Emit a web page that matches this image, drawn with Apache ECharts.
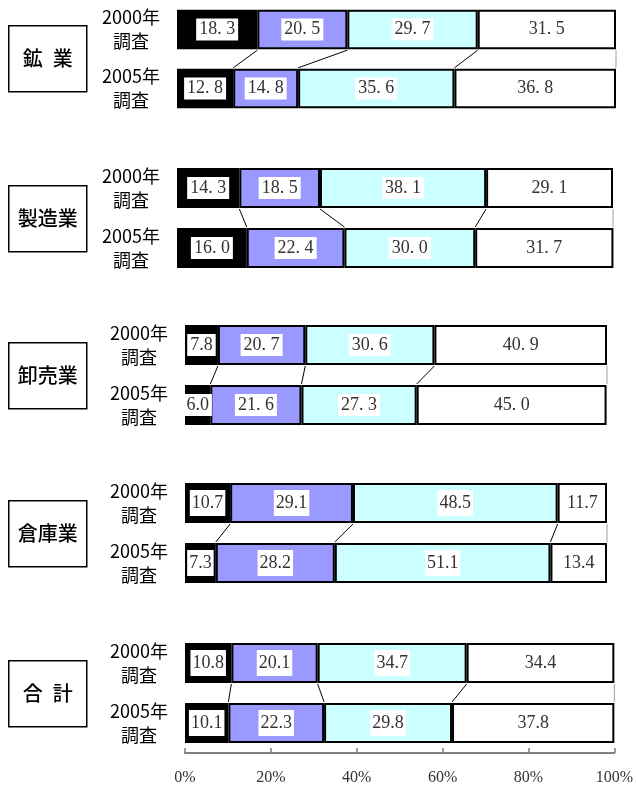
<!DOCTYPE html>
<html>
<head>
<meta charset="utf-8">
<style>
  html, body { margin: 0; padding: 0; background: #fff; }
  #chart { width: 636px; height: 787px; }
</style>
<script src="https://cdn.jsdelivr.net/npm/echarts@6/dist/echarts.min.js"></script>
</head>
<body>
<div id="chart"></div>
<script>
// Industries (row groups) and survey years (bars within each group)
const industries = ['鉱\u2002業', '製造業', '卸売業', '倉庫業', '合\u2002計'];
const surveys = ['2000年\n調査', '2005年\n調査'];
const tickLabels = ['0%', '20%', '40%', '60%', '80%', '100%'];

// Shares (%) per segment, [2000 survey, 2005 survey]
const mining        = [[18.3, 20.5, 29.7, 31.5], [12.8, 14.8, 35.6, 36.8]];
const manufacturing = [[14.3, 18.5, 38.1, 29.1], [16.0, 22.4, 30.0, 31.7]];
const wholesale     = [[7.8, 20.7, 30.6, 40.9], [6.0, 21.6, 27.3, 45.0]];
const warehousing   = [[10.7, 29.1, 48.5, 11.7], [7.3, 28.2, 51.1, 13.4]];
const total         = [[10.8, 20.1, 34.7, 34.4], [10.1, 22.3, 29.8, 37.8]];

const panels = [mining, manufacturing, wholesale, warehousing, total];

// Layout of each panel: grid left, grid right, grid top
const panelLeft  = [177, 177, 185, 185, 185];
const panelRight = [20, 23, 29, 29, 21];
const panelTop   = [-2, 158, 315, 473, 633];
const panelH = 120;
const barRatio = 0.667;

const segColors = ['#000000', '#9999ff', '#ccffff', '#ffffff'];
const serif = '"Liberation Serif", "DejaVu Serif", serif';
const sans = '"Noto Sans CJK JP", "Noto Sans", sans-serif';

const grids = [], xAxes = [], yAxes = [], series = [], graphics = [];

panels.forEach((rows, p) => {
  grids.push({ left: panelLeft[p], right: panelRight[p], top: panelTop[p], height: panelH });
  const isLast = p === panels.length - 1;
  xAxes.push({
    gridIndex: p, type: 'value', min: 0, max: 100, interval: 20,
    show: isLast,
    axisLine: { show: true, lineStyle: { color: '#7f7f7f', width: 2 } },
    axisTick: { show: true, inside: true, length: 5, lineStyle: { color: '#7f7f7f', width: 1.5 } },
    splitLine: { show: false },
    axisLabel: {
      margin: 17, color: '#333', fontFamily: serif, fontSize: 16,
      formatter: v => tickLabels[Math.round(v / 20)]
    }
  });
  yAxes.push({
    gridIndex: p, type: 'category', data: surveys, inverse: true,
    axisLine: { show: false }, axisTick: { show: false },
    axisLabel: {
      margin: 46, align: 'center', color: '#000', fontFamily: sans,
      fontSize: 18, lineHeight: 24
    }
  });

  // Stacked segments
  for (let s = 0; s < 4; s++) {
    const wide = p < 2 || (p === 2 && s > 0);
    series.push({
      type: 'bar', xAxisIndex: p, yAxisIndex: p, stack: 'g' + p,
      barWidth: (barRatio * 100) + '%',
      data: rows.map(r => r[s]),
      itemStyle: { color: segColors[s], borderColor: '#000', borderWidth: 2 },
      label: {
        show: true, position: 'inside', color: '#333', fontFamily: serif, fontSize: 18,
        backgroundColor: '#fff', padding: p < 3 ? [2, 3] : [4, 2],
        formatter: d => wide ? d.value.toFixed(1).replace('.', '. ') : d.value.toFixed(1)
      },
      animation: false
    });
  }

  // Connector lines between the segment boundaries of the two surveys
  const cum = rows.map(r => { let a = 0; return r.map(v => (a += v)); });
  const links = [];
  for (let k = 0; k < 3; k++) links.push([cum[0][k], cum[1][k], 0]);
  links.push([100, 100, 1]);
  series.push({
    type: 'custom', xAxisIndex: p, yAxisIndex: p, data: links, z: 5,
    renderItem: (params, api) => {
      const a = api.coord([api.value(0), 0]);
      const b = api.coord([api.value(1), 1]);
      const half = api.size([0, 1])[1] * barRatio / 2;
      const gray = api.value(2) === 1;
      return {
        type: 'line',
        shape: { x1: a[0], y1: a[1] + half + 1, x2: b[0], y2: b[1] - half - 1 },
        style: { stroke: gray ? '#a0a0a0' : '#000', lineWidth: 1 }
      };
    },
    animation: false
  });

  // Industry name box
  const cy = panelTop[p] + panelH / 2;
  graphics.push({
    type: 'group', left: 8, top: cy - 33,
    children: [
      { type: 'rect', shape: { x: 0, y: 0, width: 78, height: 66 },
        style: { fill: '#fff', stroke: '#000', lineWidth: 1.5 } },
      { type: 'text', x: 39, y: 33,
        style: { text: industries[p], fill: '#000', font: '500 20px ' + sans,
                 textAlign: 'center', textVerticalAlign: 'middle' } }
    ]
  });
});

const chart = echarts.init(document.getElementById('chart'));
chart.setOption({
  animation: false,
  backgroundColor: '#fff',
  grid: grids, xAxis: xAxes, yAxis: yAxes, series: series, graphic: graphics
});
</script>
</body>
</html>
